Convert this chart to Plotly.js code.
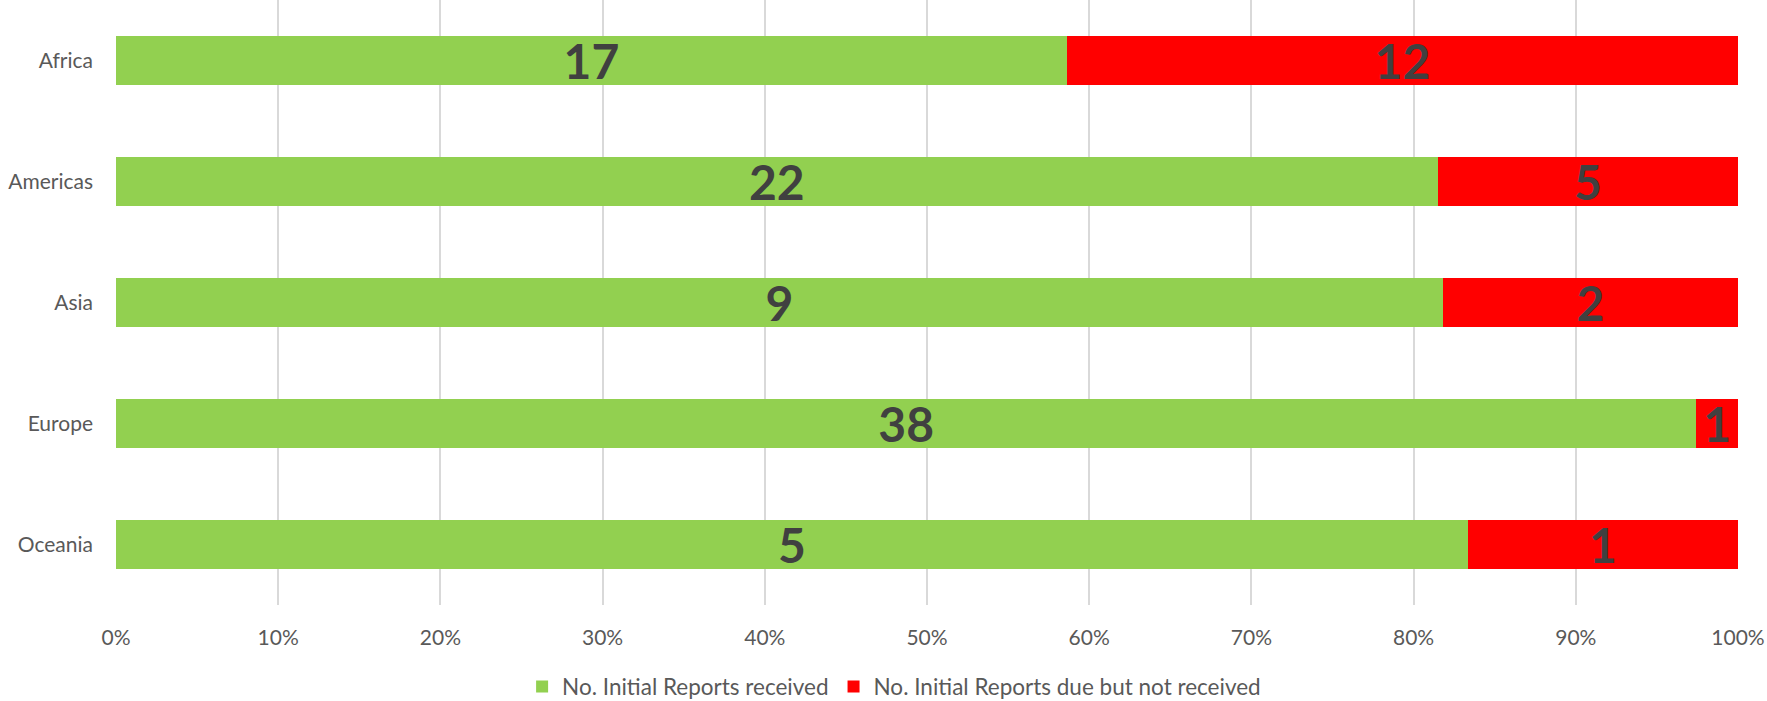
<!DOCTYPE html>
<html>
<head>
<meta charset="utf-8">
<script src="https://cdn.plot.ly/plotly-3.0.1.min.js"></script>
<style>html,body{margin:0;padding:0;background:#fff;}#chart{width:1767px;height:701px;}</style>
</head>
<body>
<div id="chart"></div>
<script>
const regions = ["Africa", "Americas", "Asia", "Europe", "Oceania"];
const received = [17, 22, 9, 38, 5];
const notReceived = [12, 5, 2, 1, 1];
const seriesNames = ["No. Initial Reports received", "No. Initial Reports due but not received"];
const tickVals = [0, 10, 20, 30, 40, 50, 60, 70, 80, 90, 100];
const tickText = ["0%", "10%", "20%", "30%", "40%", "50%", "60%", "70%", "80%", "90%", "100%"];

const FONT = "Lato, 'Open Sans', sans-serif";
const labelFont = {family: FONT, size: 48, color: "#404040", weight: 700};

function barTrace(vals, name, color) {
  return {
    type: "bar", orientation: "h", y: regions, x: vals, name: name,
    marker: {color: color},
    text: vals.map(String), textposition: "inside", insidetextanchor: "middle",
    textangle: 0, constraintext: "none", textfont: labelFont,
    hoverinfo: "y+text+name"
  };
}

const data = [
  barTrace(received, seriesNames[0], "#92D050"),
  barTrace(notReceived, seriesNames[1], "#FF0000")
];

const layout = {
  width: 1767, height: 701,
  margin: {l: 116, r: 29, t: 0, b: 96},
  barmode: "stack", barnorm: "percent", bargap: 0.6,
  paper_bgcolor: "#fff", plot_bgcolor: "#fff",
  font: {family: FONT, color: "#595959", size: 21},
  xaxis: {
    range: [0, 100], tickvals: tickVals, ticktext: tickText,
    showgrid: true, gridcolor: "#D9D9D9", gridwidth: 2,
    zeroline: false, showline: false, ticks: "",
    ticklabelstandoff: 18, tickfont: {size: 21, color: "#595959"}
  },
  yaxis: {
    autorange: "reversed", showgrid: false, zeroline: false, showline: false,
    ticks: "", ticklabelstandoff: 22, tickfont: {size: 21, color: "#595959"}
  },
  legend: {
    orientation: "h", traceorder: "normal", xref: "container", yref: "container",
    x: 0.506, xanchor: "center", y: 0.02, yanchor: "middle",
    font: {size: 22.5, color: "#595959"}
  },
  showlegend: true
};

Plotly.newPlot("chart", data, layout, {displayModeBar: false, staticPlot: true});
</script>
</body>
</html>
